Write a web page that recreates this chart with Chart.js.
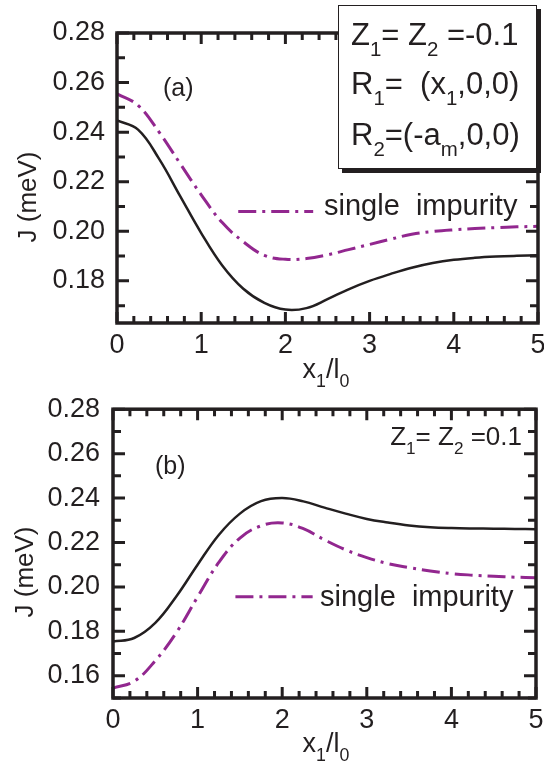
<!DOCTYPE html>
<html><head><meta charset="utf-8">
<script src="https://cdn.jsdelivr.net/npm/chart.js@4/dist/chart.umd.min.js"></script>
<style>
html,body{margin:0;padding:0;background:#fff;width:544px;height:765px;overflow:hidden;}
canvas{position:absolute;left:0;}
#ca{top:0;}
#cb{top:380px;}
</style></head><body>
<canvas id="ca" width="544" height="400"></canvas>
<canvas id="cb" width="544" height="385"></canvas>
<script>
// ---- data ----
const xValues = [0,0.25,0.5,0.75,1,1.25,1.5,1.75,2,2.25,2.5,2.75,3,3.25,3.5,3.75,4,4.25,4.5,4.75,5];
const pairA   = [0.2447,0.2410,0.2292,0.2142,0.1993,0.1862,0.1768,0.1711,0.1684,0.1690,0.1726,0.1766,0.1800,0.1828,0.1853,0.1872,0.1885,0.1893,0.1898,0.1901,0.1903];
const singleA = [0.2555,0.2508,0.2400,0.2273,0.2147,0.2035,0.1958,0.1903,0.1887,0.1890,0.1905,0.1926,0.1947,0.1968,0.1988,0.1999,0.2006,0.2011,0.2015,0.2018,0.2020];
const pairB   = [0.1754,0.1770,0.1838,0.1958,0.2100,0.2234,0.2330,0.2386,0.2400,0.2385,0.2357,0.2330,0.2306,0.2290,0.2277,0.2269,0.2265,0.2263,0.2262,0.2261,0.2260];
const singleB = [0.1545,0.1575,0.1668,0.1795,0.1955,0.2110,0.2220,0.2275,0.2288,0.2262,0.2212,0.2167,0.2132,0.2105,0.2087,0.2072,0.2060,0.2053,0.2048,0.2044,0.2041];
const xTickLabels = ['0','1','2','3','4','5'];
const yTicksA = [0.18,0.20,0.22,0.24,0.26,0.28];
const yTicksB = [0.16,0.18,0.20,0.22,0.24,0.26,0.28];
const yRangeA = [0.163, 0.28];
const yRangeB = [0.15, 0.28];
const legendLabel = 'single  impurity';
const yTitle = 'J (meV)';

// ---- styling ----
const INK = '#231f20';
const PURPLE = '#92278f';
const FONT = '"Liberation Sans", Arial, Helvetica, sans-serif';
const DASHDOT = [18, 6, 3, 6];

function drawRich(ctx, parts, x, y, size, align) {
  const subSize = size * 0.66, subDy = size * 0.34;
  const widths = parts.map(p => { ctx.font = (p[1] ? subSize : size) + 'px ' + FONT; return ctx.measureText(p[0]).width; });
  const total = widths.reduce((a, b) => a + b, 0);
  let cx = align === 'center' ? x - total / 2 : (align === 'right' ? x - total : x);
  ctx.textAlign = 'left'; ctx.textBaseline = 'alphabetic';
  parts.forEach((p, i) => {
    ctx.font = (p[1] ? subSize : size) + 'px ' + FONT;
    ctx.fillText(p[0], cx, y + (p[1] ? subDy : 0));
    cx += widths[i];
  });
}

function drawFrameTicks(chart) {
  const ctx = chart.ctx, ca = chart.chartArea, x = chart.scales.x, y = chart.scales.y;
  ctx.save();
  ctx.setLineDash([]);
  ctx.strokeStyle = INK;
  ctx.lineWidth = 3;
  for (let i = 0; i <= 25; i++) {
    const px = x.getPixelForValue(i * 0.2);
    const L = (i % 5 === 0) ? 11 : 7;
    ctx.beginPath();
    ctx.moveTo(px, ca.bottom); ctx.lineTo(px, ca.bottom - L);
    ctx.moveTo(px, ca.top); ctx.lineTo(px, ca.top + L);
    ctx.stroke();
  }
  for (let k = 15; k <= 28; k++) {
    const v = k * 0.01;
    if (v < y.min - 1e-9 || v > y.max + 1e-9) continue;
    const py = y.getPixelForValue(v);
    const L = (k % 2 === 0) ? 12 : 8;
    ctx.beginPath();
    ctx.moveTo(ca.left, py); ctx.lineTo(ca.left + L, py);
    ctx.moveTo(ca.right, py); ctx.lineTo(ca.right - L, py);
    ctx.stroke();
  }
  ctx.lineWidth = 3.5;
  ctx.strokeRect(ca.left, ca.top, ca.right - ca.left, ca.bottom - ca.top);
  ctx.restore();
}

const framePlugin = {
  id: 'frame',
  afterDraw(chart, args, o) {
    const { ctx, scales: { x, y } } = chart;
    drawFrameTicks(chart);
    ctx.save();
    const lk = o.legendKey;
    ctx.strokeStyle = PURPLE; ctx.lineWidth = 3; ctx.setLineDash(DASHDOT);
    ctx.beginPath();
    ctx.moveTo(x.getPixelForValue(lk.x0), y.getPixelForValue(lk.y));
    ctx.lineTo(x.getPixelForValue(lk.x1), y.getPixelForValue(lk.y));
    ctx.stroke();
    ctx.setLineDash([]);
    if (o.box) {
      const b = o.box;
      ctx.fillStyle = INK;
      ctx.fillRect(b.x + 4, b.y + 4, b.w, b.h);
      ctx.fillStyle = '#fff';
      ctx.fillRect(b.x, b.y, b.w, b.h);
      ctx.strokeStyle = INK; ctx.lineWidth = 1;
      ctx.strokeRect(b.x + 0.5, b.y + 0.5, b.w - 1, b.h - 1);
    }
    ctx.fillStyle = INK;
    o.texts.forEach(t => drawRich(ctx, t.parts, t.x, t.y, t.size, t.align));
    ctx.save();
    ctx.translate(o.yTitle.x, o.yTitle.y);
    ctx.rotate(-Math.PI / 2);
    ctx.font = '26px ' + FONT;
    ctx.textAlign = 'center'; ctx.textBaseline = 'alphabetic';
    ctx.fillText(yTitle, 0, 0);
    ctx.restore();
    ctx.restore();
  }
};

function makePanel(canvas, pair, single, yRange, yTicks, geo, plugOpts) {
  const toPts = arr => xValues.map((xv, i) => ({ x: xv, y: arr[i] }));
  return new Chart(canvas, {
    type: 'line',
    data: {
      datasets: [
        { data: toPts(pair), borderColor: INK, borderWidth: 2.5, pointRadius: 0,
          tension: 0.4, fill: false },
        { data: toPts(single), borderColor: PURPLE, borderWidth: 3, pointRadius: 0,
          borderDash: DASHDOT, tension: 0.4, fill: false }
      ]
    },
    options: {
      responsive: false, animation: false, devicePixelRatio: 1,
      layout: { padding: { top: geo.top, right: geo.right, left: 0, bottom: 0 } },
      plugins: { legend: { display: false }, tooltip: { enabled: false }, frame: plugOpts },
      scales: {
        x: {
          type: 'linear', min: 0, max: 5,
          grid: { display: false, drawTicks: false }, border: { display: false },
          ticks: { stepSize: 1, padding: geo.xPad, color: INK, font: { family: FONT, size: 27 },
            maxRotation: 0, callback: (v) => xTickLabels[Math.round(v)] },
          afterFit(s) { s.height = geo.xH; s.paddingLeft = 0; s.paddingRight = 0; }
        },
        y: {
          type: 'linear', min: yRange[0], max: yRange[1],
          grid: { display: false, drawTicks: false }, border: { display: false },
          afterBuildTicks(s) { s.ticks = yTicks.map(v => ({ value: v })); },
          ticks: { padding: geo.yPad, color: INK, font: { family: FONT, size: 27 },
            callback: (v) => Number(v).toFixed(2) },
          afterFit(s) { s.width = geo.yW; }
        }
      }
    },
    plugins: [framePlugin]
  });
}

makePanel(document.getElementById('ca'), pairA, singleA, yRangeA, yTicksA,
  { top: 33, right: 6, xH: 77, yW: 117, xPad: 6, yPad: 12 },
  {
    legendKey: { x0: 1.44, x1: 2.33, y: 0.208 },
    box: { x: 338, y: 5, w: 199, h: 164 },
    yTitle: { x: 36, y: 197 },
    texts: [
      { parts: [['(a)', 0]], x: 163, y: 96, size: 25 },
      { parts: [['Z', 0], ['1', 1], ['= Z', 0], ['2', 1], [' =-0.1', 0]], x: 351, y: 45, size: 31 },
      { parts: [['R', 0], ['1', 1], ['=  (x', 0], ['1', 1], [',0,0)', 0]], x: 351, y: 94, size: 31 },
      { parts: [['R', 0], ['2', 1], ['=(-a', 0], ['m', 1], [',0,0)', 0]], x: 351, y: 145, size: 31 },
      { parts: [[legendLabel, 0]], x: 324, y: 215, size: 29 },
      { parts: [['x', 0], ['1', 1], ['/l', 0], ['0', 1]], x: 326, y: 378, size: 27, align: 'center' }
    ]
  });

makePanel(document.getElementById('cb'), pairB, singleB, yRangeB, yTicksB,
  { top: 26, right: 8, xH: 67, yW: 113, xPad: 6, yPad: 13 },
  {
    legendKey: { x0: 1.447, x1: 2.36, y: 0.1956 },
    box: null,
    yTitle: { x: 33, y: 192 },
    texts: [
      { parts: [['(b)', 0]], x: 155, y: 94, size: 25 },
      { parts: [['Z', 0], ['1', 1], ['= Z', 0], ['2', 1], [' =0.1', 0]], x: 522, y: 65, size: 26, align: 'right' },
      { parts: [[legendLabel, 0]], x: 320, y: 226, size: 29 },
      { parts: [['x', 0], ['1', 1], ['/l', 0], ['0', 1]], x: 326, y: 372, size: 27, align: 'center' }
    ]
  });
</script>
</body></html>
